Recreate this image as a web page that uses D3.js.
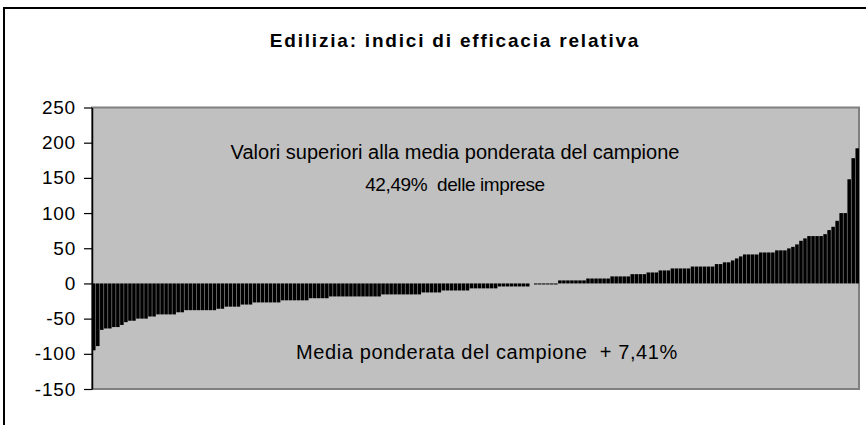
<!DOCTYPE html>
<html>
<head>
<meta charset="utf-8">
<script src="https://cdn.jsdelivr.net/npm/d3@7"></script>
<style>
  body { margin: 0; background: #fff; }
  text { font-family: "Liberation Sans", Arial, sans-serif; fill: #000; white-space: pre; }
  .title { font-weight: bold; font-size: 19px; letter-spacing: 1.8px; }
  .note { font-size: 20px; }
</style>
</head>
<body>
<div class="chart"></div>
<script>
// sorted relative efficacy index, one bar per firm
var values = [
  -95, -89, -66, -64, -64, -62, -62, -59, -55, -53,
  -53, -50, -50, -50, -47, -47, -44, -44, -44, -44,
  -44, -41, -41, -38, -38, -38, -38, -38, -38, -38,
  -38, -36, -36, -33, -33, -33, -33, -30, -30, -30,
  -27, -27, -27, -27, -27, -27, -27, -24, -24, -24,
  -24, -24, -24, -24, -21, -21, -21, -21, -21, -18.5,
  -18.5, -18.5, -18.5, -18.5, -18.5, -18.5, -18.5, -18.5, -18.5, -18.5,
  -18.5, -18.5, -15.6, -15.6, -15.6, -15.6, -15.6, -15.6, -15.6, -15.6,
  -15.6, -15.6, -12.8, -12.8, -12.8, -12.8, -12.8, -10, -10, -10,
  -10, -10, -10, -10, -7, -7, -7, -7, -7, -7,
  -7, -4.3, -4.3, -4.3, -4.3, -4.3, -4.3, -4.3, -4.3, 0,
  -1.5, -1.5, -1.5, -1.5, -1.5, -1.5, 4.3, 4.3, 4.3, 4.3,
  4.3, 4.3, 4.3, 7, 7, 7, 7, 7, 7, 10,
  10, 10, 10, 10, 13.2, 13.2, 13.2, 13.2, 15.6, 15.6,
  15.6, 18.5, 18.5, 18.5, 21.3, 21.3, 21.3, 21.3, 21.3, 24,
  24, 24, 24, 24, 24, 27.5, 27.5, 30, 30, 32.7,
  35.5, 38.4, 41.2, 41.2, 41.2, 41.2, 44, 44, 44, 44,
  47, 47, 47, 49.8, 52, 55.5, 60.6, 64, 67.3, 67.3,
  67.3, 67.3, 70, 75.8, 80.5, 89, 100, 100, 148, 178,
  192
];
var categories = values.map(function(d, i){ return i + 1; });
var yTicks = [-150, -100, -50, 0, 50, 100, 150, 200, 250];
var titleText = "Edilizia: indici di efficacia relativa";
var noteTop = ["Valori superiori alla media ponderata del campione", "42,49%  delle imprese"];
var noteBottom = "Media ponderata del campione  + 7,41%";

var W = 866, H = 425;
var plot = { left: 92, right: 859, top: 107.5, bottom: 389 };

var svg = d3.select(".chart").append("svg")
    .attr("width", W)
    .attr("height", H);

// outer chart frame
svg.append("rect")
    .attr("x", 4).attr("y", 8)
    .attr("width", W + 10).attr("height", H + 10)
    .attr("fill", "#fff")
    .attr("stroke", "#000")
    .attr("stroke-width", 2);

svg.append("text")
    .attr("class", "title")
    .attr("x", 455).attr("y", 47)
    .attr("text-anchor", "middle")
    .text(titleText);

//Scales
var x = d3.scaleBand()
    .domain(categories)
    .range([plot.left, plot.right])
    .paddingInner(0.12)
    .paddingOuter(0);
var y = d3.scaleLinear()
    .domain([-150, 250])
    .range([plot.bottom, plot.top]);

//plot area
svg.append("rect")
    .attr("x", plot.left).attr("y", plot.top)
    .attr("width", plot.right - plot.left)
    .attr("height", plot.bottom - plot.top)
    .attr("fill", "#c0c0c0")
    .attr("stroke", "#808080")
    .attr("stroke-width", 2);

svg.append("g").attr("class", "bars")
  .selectAll("rect")
  .data(values)
  .enter().append("rect")
    .attr("x", function(d, i){ return x(categories[i]); })
    .attr("width", x.bandwidth())
    .attr("y", function(d){ return y(Math.max(0, d)); })
    .attr("height", function(d){ return Math.abs(y(d) - y(0)); })
    .attr("fill", "#000");

//yAxis
var yAxis = d3.axisLeft(y)
    .tickValues(yTicks)
    .tickSizeInner(8)
    .tickSizeOuter(0)
    .tickPadding(8)
    .tickFormat(function(d){ return d; });
var gy = svg.append("g")
    .attr("transform", "translate(" + plot.left + ",0)")
    .call(yAxis);
gy.select(".domain").attr("stroke", "#000").attr("stroke-width", 1.5);
gy.selectAll(".tick line").attr("stroke", "#000").attr("stroke-width", 1.2);
gy.selectAll(".tick text")
    .style("font-family", '"Liberation Sans", Arial, sans-serif')
    .style("font-size", "19px")
    .style("letter-spacing", "0.8px")
    .attr("fill", "#000");

//notes
svg.append("text")
    .attr("class", "note")
    .attr("x", 455).attr("y", 159)
    .attr("text-anchor", "middle")
    .text(noteTop[0]);

svg.append("text")
    .attr("class", "note")
    .attr("x", 455).attr("y", 191)
    .attr("text-anchor", "middle")
    .style("font-size", "19px")
    .style("letter-spacing", "-0.4px")
    .text(noteTop[1]);

svg.append("text")
    .attr("class", "note")
    .attr("x", 487).attr("y", 359)
    .attr("text-anchor", "middle")
    .style("letter-spacing", "0.6px")
    .text(noteBottom);
</script>
</body>
</html>
